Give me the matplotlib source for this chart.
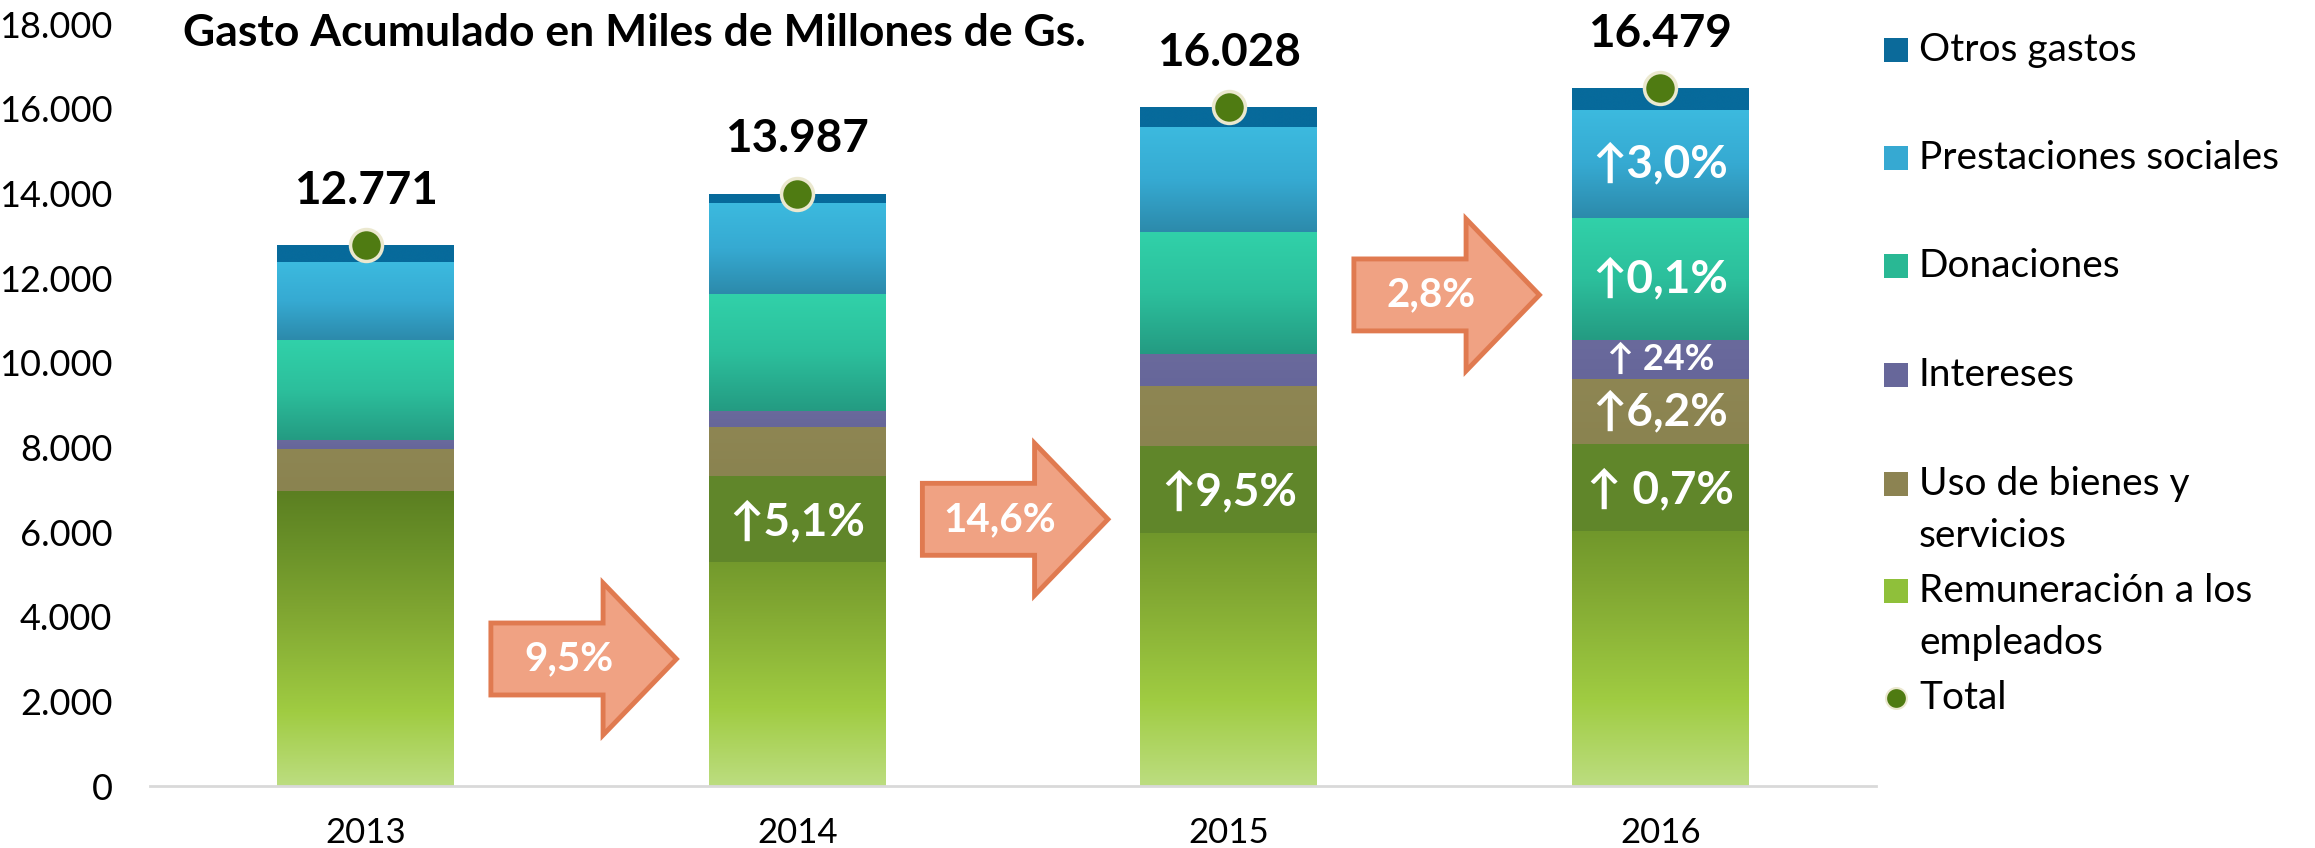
import matplotlib
matplotlib.use("Agg")
import matplotlib.pyplot as plt
import numpy as np
from matplotlib.colors import LinearSegmentedColormap
from matplotlib.patches import FancyArrow, Rectangle
from matplotlib.lines import Line2D

plt.rcParams['font.family'] = ['Lato', 'DejaVu Sans']

# data (miles de millones de Gs.)
years = ['2013', '2014', '2015', '2016']
remuneracion = [6960, 7330, 8020, 8076]
uso_bienes = [990, 1160, 1440, 1529]
intereses = [230, 380, 750, 930]
donaciones = [2350, 2760, 2870, 2873]
prestaciones = [1840, 2150, 2480, 2554]
otros_gastos = [401, 207, 468, 517]
totales = [12771, 13987, 16028, 16479]

# growth labels
crec_total = ['9,5%', '14,6%', '2,8%']
crec_total_y = [3000, 6300, 11600]          # vertical placement of the block arrows
crec_remun = ['', '↑5,1%', '↑9,5%', '↑ 0,7%']
crec_2016 = ['↑6,2%', '↑ 24%', '↑0,1%', '↑3,0%']   # uso, intereses, donaciones, prestaciones

series = [
    ('Remuneración a los\nempleados', remuneracion,
     [(0, '#bcdd80'), (0.25, '#a0cc42'), (0.6, '#7fa531'), (0.8, '#6b9229'), (1, '#5b7f21')], '#8fc03a'),
    ('Uso de bienes y\nservicios', uso_bienes, ['#8a8350', '#8e8653'], '#8c8352'),
    ('Intereses', intereses, ['#66669a', '#6a6a9c'], '#67679a'),
    ('Donaciones', donaciones, ['#249b82', '#2cbf9c', '#31d1a9'], '#29b894'),
    ('Prestaciones sociales', prestaciones, ['#2c8aab', '#36aad2', '#3cbadf'], '#36a9d2'),
    ('Otros gastos', otros_gastos, ['#076a9b', '#076a9b'], '#0b6a9a'),
]

W, H = 2315, 848
fig = plt.figure(figsize=(W / 100, H / 100), dpi=100)
ax = fig.add_axes([150 / W, (H - 786) / H, (1876 - 150) / W, (786 - 24) / H])

x = np.arange(len(years))
bar_w = 0.41
grad = np.linspace(0, 1, 256).reshape(-1, 1)
bottom = np.zeros(len(years))
tops = []
for name, vals, stops, _ in series:
    cmap = LinearSegmentedColormap.from_list(name, stops)
    bars = ax.bar(x, vals, bar_w, bottom=bottom, color=cmap(1.0), linewidth=0, zorder=2)
    for b in bars:
        x0, y0 = b.get_x(), b.get_y()
        im = ax.imshow(grad, cmap=cmap, origin='lower', aspect='auto', zorder=2.5,
                       extent=(x0, x0 + b.get_width(), y0, y0 + b.get_height()))
        im.set_clip_path(b)
    tops.append(bottom + np.array(vals))
    bottom = bottom + np.array(vals)

ax.set_xlim(-0.5, len(years) - 0.5)
ax.set_ylim(0, 18000)

# totals
ax.plot(x, totales, 'o', ms=23, mfc='#4f7b12', mec='#ebe8cf', mew=2.5, ls='none', zorder=6)
for i, v in enumerate(totales):
    ax.annotate(f'{v:,}'.replace(',', '.'), (i, v), xytext=(0, 30), textcoords='offset points',
                ha='center', va='baseline', fontsize=33, fontweight='bold', zorder=7)

# growth of remuneracion (label sits in a flat box across the bar top)
box_h = 2050
for i, lab in enumerate(crec_remun):
    if lab:
        ax.add_patch(Rectangle((i - bar_w / 2, remuneracion[i] - box_h), bar_w, box_h,
                               fc='#60862a', ec='none', zorder=3))
        ax.text(i, remuneracion[i] - box_h / 2 - 60, lab, ha='center', va='center', color='white',
                fontsize=33, fontweight='bold', zorder=7)

# growth 2016 per item
for k, lab in enumerate(crec_2016):
    lo = tops[k][3]
    hi = tops[k + 1][3]
    fs = 26 if k == 1 else 33
    ax.text(3, (lo + hi) / 2, lab, ha='center', va='center', color='white',
            fontsize=fs, fontweight='bold', zorder=7)

# block arrows with total growth
for i, (lab, yc) in enumerate(zip(crec_total, crec_total_y)):
    arr = FancyArrow(i + 0.29, yc, 0.43, 0, width=1700, head_width=3590, head_length=0.17,
                     length_includes_head=True, fc='#f0a283', ec='#e07a50', lw=3.5, zorder=4)
    ax.add_patch(arr)
    ax.text(i + 0.47, yc, lab, ha='center', va='center', color='white',
            fontsize=29, fontweight='bold', zorder=5)

# axes styling
for s in ['top', 'right', 'left']:
    ax.spines[s].set_visible(False)
ax.spines['bottom'].set_color('#d9d9d9')
ax.spines['bottom'].set_linewidth(2)
ax.set_xticks(x)
ax.set_xticklabels(years, fontsize=25)
yt = np.arange(0, 18001, 2000)
ax.set_yticks(yt)
ax.set_yticklabels([f'{int(t):,}'.replace(',', '.') for t in yt], fontsize=26)
ax.tick_params(axis='y', length=0, pad=27)
ax.tick_params(axis='x', length=0, pad=22)

# title
fig.text(183 / W, 1 - 46 / H, 'Gasto Acumulado en Miles de Millones de Gs.',
         ha='left', va='baseline', fontsize=32, fontweight='bold')

# legend (drawn by hand to follow the original spacing)
leg_y = [50, 158, 266, 375, 484, 591, 698]
leg_items = [(s[0], s[3]) for s in series[::-1]] + [('Total', None)]
for (name, col), yy in zip(leg_items, leg_y):
    if col is None:
        fig.add_artist(Line2D([1896 / W], [1 - yy / H], marker='o', ms=15, mfc='#4f7b12',
                              mec='#ebe8cf', mew=1.5, transform=fig.transFigure))
    else:
        fig.add_artist(Rectangle((1884 / W, 1 - (yy + 12) / H), 24 / W, 24 / H,
                                 fc=col, ec='none', transform=fig.transFigure))
    for j, line in enumerate(name.split('\n')):
        fig.text(1919 / W, 1 - (yy + j * 52) / H, line, ha='left', va='center', fontsize=28)

fig.savefig('out.png', dpi=100)
